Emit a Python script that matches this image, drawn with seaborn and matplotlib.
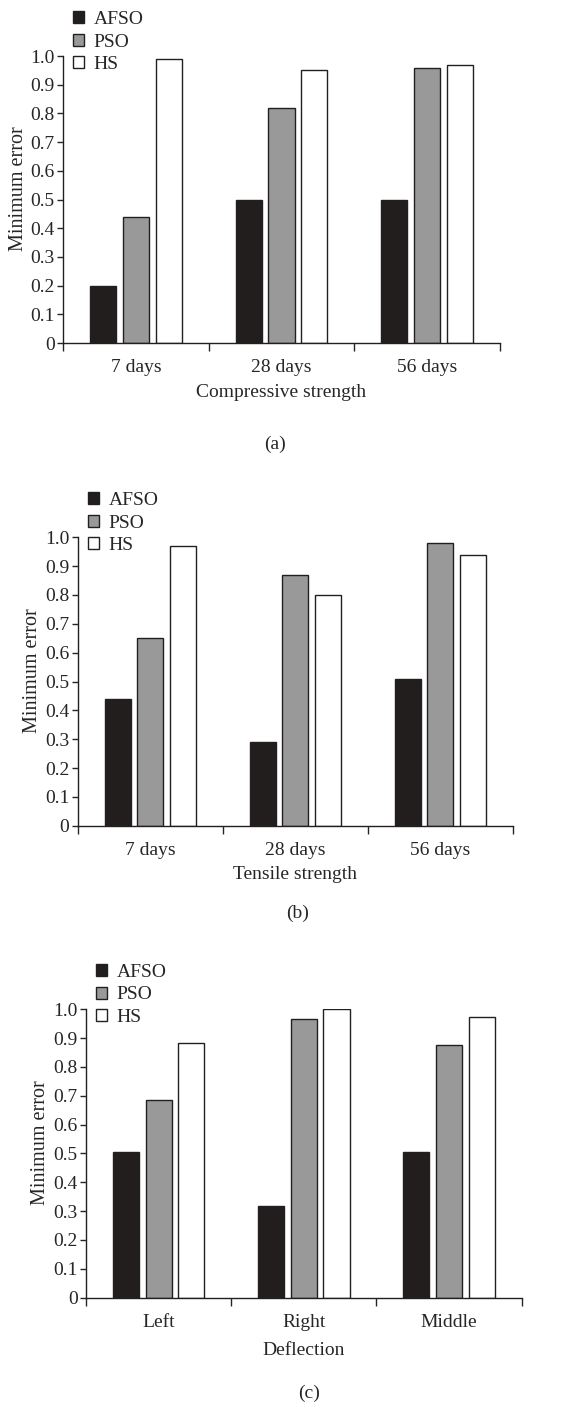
import numpy as np
import pandas as pd
import matplotlib
matplotlib.use('Agg')
import matplotlib.pyplot as plt
import seaborn as sns

# Data
methods = ['AFSO', 'PSO', 'HS']

comp_cats = ['7 days', '28 days', '56 days']
comp_afso = [0.20, 0.50, 0.50]
comp_pso = [0.44, 0.82, 0.96]
comp_hs = [0.99, 0.95, 0.97]

tens_cats = ['7 days', '28 days', '56 days']
tens_afso = [0.44, 0.29, 0.51]
tens_pso = [0.65, 0.87, 0.98]
tens_hs = [0.97, 0.80, 0.94]

defl_cats = ['Left', 'Right', 'Middle']
defl_afso = [0.505, 0.317, 0.505]
defl_pso = [0.685, 0.967, 0.877]
defl_hs = [0.883, 1.00, 0.972]

yticks = [0, 0.1, 0.2, 0.3, 0.4, 0.5, 0.6, 0.7, 0.8, 0.9, 1.0]
ytick_labels = ['0', '0.1', '0.2', '0.3', '0.4', '0.5', '0.6', '0.7', '0.8', '0.9', '1.0']

sns.set_style('ticks')
plt.rcParams['font.family'] = ['Liberation Serif', 'DejaVu Serif']
plt.rcParams['font.size'] = 14

colors = ['#221e1c', '#999999', '#ffffff']
edge = '#231f20'


def make_df(cats, a, p, h):
    rows = []
    for vals, m in zip([a, p, h], methods):
        for c, v in zip(cats, vals):
            rows.append({'cat': c, 'method': m, 'value': v})
    return pd.DataFrame(rows)


def draw_panel(fig, rect, df, cats, xlabel, xpad):
    ax = fig.add_axes(rect)
    sns.barplot(data=df, x='cat', y='value', hue='method', order=cats,
                hue_order=methods, palette=colors, width=0.675, gap=0.2,
                edgecolor=edge, linewidth=1.0, ax=ax, legend=True)
    ax.set_xlim(-0.5, 2.5)
    ax.set_ylim(0, 1.0)
    ax.set_yticks(yticks)
    ax.set_yticklabels(ytick_labels)
    ax.set_xticks([-0.5, 0.5, 1.5, 2.5], minor=True)
    ax.tick_params(axis='x', which='major', length=0, pad=11.5)
    ax.tick_params(axis='x', which='minor', length=6, width=1, direction='out')
    ax.tick_params(axis='y', length=4, width=1, pad=2)
    for s in ['top', 'right']:
        ax.spines[s].set_visible(False)
    for s in ['left', 'bottom']:
        ax.spines[s].set_linewidth(1.0)
        ax.spines[s].set_color('#231f20')
    ax.set_xlabel(xlabel, labelpad=xpad)
    ax.set_ylabel('Minimum error', labelpad=2, fontsize=14.5)
    ax.yaxis.label.set_y(0.538)
    ax.legend(loc='upper left', bbox_to_anchor=(0.0226, 1.156),
              frameon=False, borderaxespad=0, borderpad=0,
              handlelength=0.57, handleheight=0.57, handletextpad=0.5,
              labelspacing=0.27)
    return ax


fig = plt.figure(figsize=(5.74, 14.12), dpi=100)

draw_panel(fig, [0.1098, 0.757, 0.7612, 0.2033],
           make_df(comp_cats, comp_afso, comp_pso, comp_hs),
           comp_cats, 'Compressive strength', 6)
draw_panel(fig, [0.1354, 0.4152, 0.7583, 0.2043],
           make_df(tens_cats, tens_afso, tens_pso, tens_hs),
           tens_cats, 'Tensile strength', 5)
draw_panel(fig, [0.1498, 0.081, 0.7591, 0.2043],
           make_df(defl_cats, defl_afso, defl_pso, defl_hs),
           defl_cats, 'Deflection', 8)

fig.text(275 / 574, 1 - 444 / 1412, '(a)', ha='center', va='center', fontsize=14)
fig.text(298 / 574, 1 - 913 / 1412, '(b)', ha='center', va='center', fontsize=14)
fig.text(309 / 574, 1 - 1393 / 1412, '(c)', ha='center', va='center', fontsize=14)

fig.savefig('out.png', dpi=100, facecolor='white')
